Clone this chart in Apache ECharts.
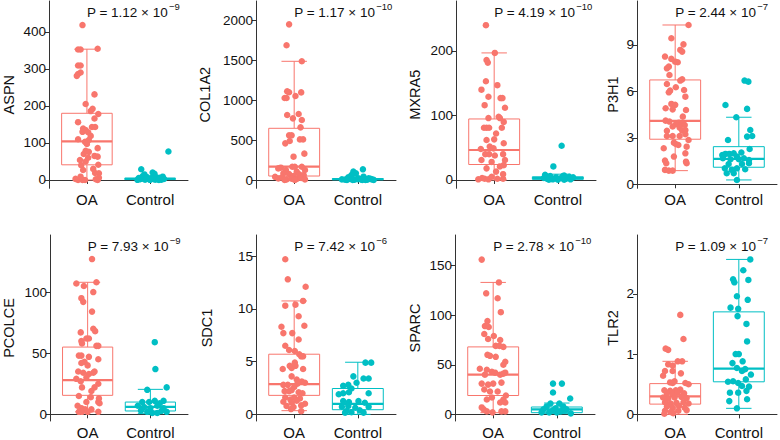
<!DOCTYPE html>
<html>
<head>
<meta charset="utf-8">
<script src="https://cdn.jsdelivr.net/npm/echarts@6/dist/echarts.min.js"></script>
<style>
html, body { margin: 0; padding: 0; background: #fff; }
#main { width: 780px; height: 440px; }
</style>
</head>
<body>
<div id="main"></div>
<script>
// gene panels, left to right, top row then bottom row
var genes = ['ASPN', 'COL1A2', 'MXRA5', 'P3H1', 'PCOLCE', 'SDC1', 'SPARC', 'TLR2'];
var groups = ['OA', 'Control'];
var pValues = [['1.12', '−9'], ['1.17', '−10'], ['4.19', '−10'], ['2.44', '−7'],
               ['7.93', '−9'], ['7.42', '−6'], ['2.78', '−10'], ['1.09', '−7']];
var yTicks = [[0, 100, 200, 300, 400], [0, 500, 1000, 1500, 2000], [0, 100, 200], [0, 3, 6, 9],
              [0, 50, 100], [0, 5, 10, 15], [0, 50, 100, 150], [0, 1, 2]];

// box stats: [lower whisker, Q1, median, Q3, upper whisker]
var boxOA = [[0, 41, 104, 180, 353], [2, 50, 167, 649, 1490], [0, 24, 46.5, 94.6, 197], [0.88, 2.91, 4.09, 6.74, 10.29],
             [2, 15.5, 28, 55, 108], [0.35, 1.8, 2.86, 5.7, 10.75], [1.7, 19, 40, 68, 133], [0, 0.17, 0.3, 0.51, 0.88]];
var boxControl = [[0.2, 1.2, 3, 5, 10], [0, 4, 10, 18, 40], [0, 1, 3, 5, 9], [0.28, 1.1, 1.64, 2.43, 4.33],
                  [0.5, 2.7, 6, 10, 20.4], [0, 0.44, 1.0, 2.45, 4.94], [0.7, 1.7, 5, 7.4, 11.4], [0.1, 0.54, 0.76, 1.7, 2.57]];

// points: [jitter, value]
var aspnOA = [[-0.07,418],[-0.14,352],[-0.10,352],[0.17,354],[-0.14,309],[-0.10,309],[-0.14,286],[-0.10,290],[-0.16,281],
  [0.12,231],[-0.02,205],[0.09,192],[0.06,186],[0.18,178],[0.12,166],[-0.14,156],[-0.06,139],[-0.02,135],[0.08,143],
  [0.13,143],[-0.07,130],[0.02,129],[0.06,119],[-0.14,110],[-0.03,103],[0.03,108],[0,97],[0.17,86],[-0.02,79],[0.03,76],
  [0.12,65],[0.17,63],[-0.11,54],[-0.02,50],[-0.09,40],[0.18,41],[-0.06,27],[0.19,18],[0.13,19],[-0.18,3],[-0.14,0],
  [-0.07,0],[-0.03,0],[0.14,2],[0.17,0],[0.19,6],[-0.10,9],[0.02,60],[-0.05,70],[0.10,30]];
var aspnControl = [[0.29,77],[-0.14,29],[-0.09,15],[0.04,20],[0.07,17],[0.2,9],[-0.12,10],[-0.05,8],[0.1,7],[0.15,6],
  [-0.18,5],[0.02,5],[0.2,4],[-0.1,4],[0.05,3],[-0.15,3],[0.12,2],[-0.02,2],[0.18,1],[-0.08,1],[0.08,1],[-0.2,0.5],
  [0,0.5],[0.14,0.3],[-0.16,2],[0.22,3]];
var col1a2OA = [[-0.08,1954],[-0.12,1691],[0.12,1490],[-0.11,1113],[-0.08,1101],[0.11,1100],[-0.15,1030],[-0.12,1030],
  [0.02,1055],[-0.11,816],[0.07,829],[-0.02,774],[0.12,753],[0.10,661],[-0.08,561],[-0.04,561],[-0.14,460],[-0.07,490],
  [0.09,510],[0.14,510],[-0.01,293],[0.16,331],[-0.03,167],[0.01,167],[-0.21,155],[-0.13,126],[0.12,167],[0.04,105],
  [-0.17,84],[-0.08,75],[-0.01,50],[0.08,71],[0.15,63],[-0.30,40],[-0.25,20],[-0.19,33],[-0.12,8],[-0.04,17],[0.04,12],
  [0.11,25],[0.17,8],[-0.15,0],[0.01,0],[0.17,126],[-0.25,146]];
var col1a2Control = [[0.08,134],[-0.07,105],[-0.03,84],[-0.10,63],[0.09,42],[-0.15,33],[0.01,21],[0.17,21],[-0.25,8],
  [0.22,8],[-0.2,5],[-0.12,12],[-0.05,3],[0.05,6],[0.12,2],[0.2,15],[-0.17,1],[0.0,10],[0.15,4],[-0.08,0],[0.25,2],[0.07,1]];
var mxra5OA = [[-0.13,240],[0.01,197],[-0.12,186],[-0.10,182],[-0.13,153],[0.05,147],[-0.2,140],[-0.09,129],[-0.15,116],
  [0.1,127],[0.13,127],[0.17,112],[-0.09,96],[0.07,98],[0.09,96],[-0.16,81],[-0.12,81],[-0.08,81],[0.12,81],[0.15,90],
  [0.03,72],[0,63],[-0.12,62],[0.15,57],[-0.21,48],[-0.07,52],[-0.01,49],[-0.14,40],[-0.08,40],[0.01,38],[0.14,40],
  [0.17,31],[-0.2,31],[-0.04,28],[0.09,21],[0.15,23],[-0.12,18],[0.03,13],[0.14,9],[-0.19,3],[-0.15,2],[-0.09,1],
  [-0.04,5],[0.05,2],[0.14,2],[-0.25,1]];
var mxra5Control = [[0.06,53],[-0.07,21],[-0.2,8],[-0.12,6],[0.1,7],[0.18,5],[-0.03,4],[0.05,3],[-0.17,2],[0.13,2],
  [-0.08,1],[0.2,1],[0.0,0.5],[-0.22,3],[0.1,0.5],[0.24,4],[-0.14,0.3],[0.08,6]];
var p3h1OA = [[0.21,10.29],[-0.06,9.43],[0.13,9.04],[0.08,8.68],[0.11,8.57],[-0.16,8.25],[-0.06,8.1],[0,7.92],[0.04,7.88],
  [-0.13,7.49],[-0.1,7.6],[-0.09,7.06],[0.11,6.78],[0.08,6.7],[-0.13,6.48],[0.01,6.27],[-0.08,6.05],[-0.1,5.94],
  [0.14,6.09],[0.16,5.66],[-0.06,5.19],[0,5.13],[-0.15,4.91],[-0.04,4.84],[0.17,4.8],[0.12,4.37],[-0.15,4.11],
  [-0.09,4.05],[0.06,3.98],[0.11,3.94],[0.01,3.88],[0.15,3.83],[-0.04,3.73],[0.07,3.66],[-0.13,3.45],[0.11,3.47],
  [0.16,3.51],[0.16,3.23],[-0.13,3.12],[-0.04,3.12],[0.07,3.12],[0.21,2.86],[-0.02,2.69],[0.01,2.6],[0.05,2.54],
  [0.18,2.43],[-0.18,2.33],[0.16,2.0],[0.18,1.36],[0.17,1.46],[-0.02,1.79],[-0.16,1.53],[-0.14,1.36],[-0.16,0.93],
  [-0.1,0.88],[-0.04,0.88]];
var p3h1Control = [[0.09,6.7],[0.15,6.63],[-0.21,5.12],[0.13,4.87],[-0.04,4.33],[0.18,3.51],[0.21,3.12],[0.13,3.08],
  [-0.17,2.86],[0.17,2.28],[-0.26,1.89],[-0.21,1.96],[-0.15,1.96],[-0.08,2.0],[-0.03,1.79],[0.04,2.05],[-0.25,1.68],
  [-0.13,1.62],[0,1.62],[0.08,1.68],[0.16,1.57],[-0.16,1.31],[0.05,1.31],[0.16,1.36],[-0.22,1.03],[-0.11,0.93],
  [-0.03,1.03],[0.1,0.97],[-0.19,0.71],[-0.08,0.71],[-0.03,0.28]];
var pcolceOA = [[0.07,127],[-0.18,107],[-0.06,105],[0.14,108],[0.09,100],[-0.1,95],[-0.07,92],[0.07,84],[-0.11,67],
  [0.09,70],[0.12,68],[-0.02,62],[0.02,62],[-0.1,60],[-0.09,58],[0.14,56],[0.17,56],[-0.14,48],[-0.1,48],[0.02,47],
  [0.17,45],[-0.05,43],[-0.1,42],[0,40],[-0.15,35],[-0.07,34],[0.09,34],[0.11,35],[0.02,33],[-0.18,29],[-0.11,27],
  [-0.02,30],[0.17,25],[-0.09,22],[0.11,22],[0.06,19],[-0.14,15],[0.05,14],[0.18,13],[0.17,10],[0.19,9],[-0.02,10],
  [-0.16,7],[-0.1,5],[-0.04,4],[0.06,4],[-0.14,2],[-0.09,2],[0,2],[0.17,2]];
var pcolceControl = [[0.07,59],[0.08,37],[0.26,22],[-0.05,20],[0.21,11],[0.07,11],[-0.02,10],[-0.13,10],[0.15,9],
  [-0.2,7],[-0.1,6],[0,5],[0.11,7],[0.21,5],[-0.15,3],[-0.05,2],[0.03,1],[0.11,1],[0.18,3],[0.26,2]];
var sdc1OA = [[-0.14,14.7],[-0.1,12.8],[0.18,12.1],[0.14,10.75],[-0.14,10.3],[0.02,10.4],[0.07,9.3],[-0.2,8.3],
  [-0.17,7.7],[0.16,8.4],[-0.03,7.7],[0.07,7.1],[-0.14,6.5],[-0.08,6.1],[0.01,6.0],[0.08,5.7],[0.11,5.5],[0.14,5.5],
  [0.01,4.9],[-0.07,4.6],[-0.04,4.4],[0.02,4.6],[-0.18,4.3],[0.14,4.3],[-0.04,3.6],[0.04,3.3],[-0.17,2.8],[-0.1,2.8],
  [0.12,3.1],[0.17,3.0],[0.05,2.9],[0,2.6],[-0.04,2.3],[-0.15,2.2],[-0.08,2.2],[0.07,2.1],[0.13,2.0],[-0.14,1.6],
  [-0.06,1.4],[0,1.6],[0.09,1.5],[-0.17,1.2],[-0.04,1.1],[0.04,1.3],[0.17,1.0],[-0.12,0.8],[-0.01,0.7],[0.11,0.85],
  [-0.05,0.5],[0.11,0.3]];
var sdc1Control = [[0.12,4.9],[0.21,4.9],[-0.07,3.6],[0.09,3.4],[0.17,3.4],[-0.23,2.7],[-0.15,2.8],[-0.02,3.0],[0.17,2.0],
  [-0.1,2.45],[-0.3,1.9],[-0.23,2.0],[-0.14,2.1],[-0.23,1.26],[-0.14,1.16],[0.01,1.26],[0.11,1.1],[-0.25,0.72],
  [-0.15,0.8],[-0.04,0.63],[0.17,0.72],[-0.18,0.3],[-0.1,0.2],[0.03,0.38],[0.09,0.16],[-0.2,0.16]];
var sparcOA = [[-0.18,156],[0.09,133],[-0.11,122],[0.07,117],[0.12,103],[-0.09,94],[-0.13,89],[-0.07,88],[-0.14,81],
  [0.01,79],[-0.08,76],[0.11,75],[0.04,69],[0.1,69],[0.16,68],[-0.09,60],[-0.05,59],[0.04,58],[0.19,53],[0.16,50],
  [-0.21,46],[-0.1,45],[-0.02,43],[0.03,42],[0.19,42],[-0.13,40],[0.11,40],[0.16,41],[-0.18,31],[-0.08,30],[0,31],
  [0.13,32],[-0.14,25],[-0.05,23],[0.07,23],[0.2,19],[0.16,15],[-0.02,17],[-0.1,15],[0.11,12],[0.19,12],[-0.18,7],
  [-0.15,5],[-0.1,3],[0.13,3],[0.19,3],[-0.01,2]];
var sparcControl = [[-0.06,31],[0.08,31],[-0.06,22],[0.21,16],[-0.1,11],[0.04,11],[-0.16,8],[0.1,8],[-0.21,5],
  [-0.06,4],[0.15,5],[0.06,3],[-0.12,2],[0,2],[-0.24,2],[0.22,1],[-0.02,6],[0.12,4]];
var tlr2OA = [[0.08,1.65],[0.13,1.25],[-0.15,1.09],[-0.11,1.07],[0.04,0.88],[0.11,0.88],[-0.11,0.83],[-0.04,0.81],
  [-0.16,0.72],[-0.19,0.64],[0.09,0.68],[-0.04,0.72],[-0.08,0.53],[-0.01,0.55],[-0.04,0.52],[0.16,0.52],[0.21,0.5],
  [-0.17,0.4],[-0.08,0.39],[0.01,0.4],[0.08,0.41],[-0.13,0.35],[-0.04,0.33],[0.04,0.36],[0.14,0.35],[-0.19,0.28],
  [-0.11,0.26],[-0.01,0.28],[0.1,0.29],[0.18,0.27],[-0.16,0.2],[-0.07,0.18],[0.02,0.19],[0.13,0.2],[0.21,0.18],
  [-0.13,0.13],[-0.04,0.11],[0.06,0.14],[0.15,0.11],[-0.16,0.06],[-0.07,0.04],[0.05,0.06],[0.18,0.07],[-0.17,0.01],
  [-0.03,0.02]];
var tlr2Control = [[0.18,2.57],[0.07,2.39],[-0.09,2.24],[-0.07,2.19],[0.15,2.23],[-0.03,1.96],[0.14,1.9],[-0.13,1.77],
  [-0.01,1.75],[-0.02,1.63],[0.12,1.5],[0.13,1.21],[-0.05,1.0],[0,1.0],[-0.1,0.85],[0.06,0.88],[-0.03,0.77],[0.1,0.75],
  [0.05,0.72],[0.19,0.66],[-0.17,0.54],[-0.09,0.55],[-0.01,0.52],[0.11,0.58],[0.05,0.47],[0.16,0.46],[-0.14,0.36],
  [-0.01,0.36],[0.12,0.39],[-0.15,0.22],[0.13,0.25],[-0.03,0.1]];

var pointsOA = [aspnOA, col1a2OA, mxra5OA, p3h1OA, pcolceOA, sdc1OA, sparcOA, tlr2OA];
var pointsControl = [aspnControl, col1a2Control, mxra5Control, p3h1Control, pcolceControl, sdc1Control, sparcControl, tlr2Control];

// layout
var panelLeft = [48, 256, 456, 637, 48, 256, 455, 637];
var panelTop = [1, 1, 1, 1, 235, 235, 235, 235];
var panelHeight = 187.3;
var panelWidth = 140;
var yMin = [-22.4, -104, -12.9, -0.26, -5.5, -0.63, -6.7, -0.11];
var yMax = [483, 2247, 277.5, 11.84, 146.7, 17.0, 180.8, 2.975];
var nameGap = [33, 44, 34, 17, 34, 42, 33, 17];

var colOA = '#F8766D';
var colControl = '#00BFC4';
var font = '"Liberation Sans", Arial, sans-serif';
var axisColor = '#333';

var myChart = echarts.init(document.getElementById('main'), null, { renderer: 'svg' });

function renderBox(params, api) {
    var x = api.value(0);
    var lo = api.coord([x, api.value(1)]);
    var q1 = api.coord([x, api.value(2)]);
    var med = api.coord([x, api.value(3)]);
    var q3 = api.coord([x, api.value(4)]);
    var hi = api.coord([x, api.value(5)]);
    var halfBox = api.size([0.4, 0])[0];
    var halfCap = api.size([0.2, 0])[0];
    var color = params.dataIndex === 0 ? colOA : colControl;
    var ls = { stroke: color, lineWidth: 1, fill: null };
    return {
        type: 'group',
        children: [
            { type: 'line', shape: { x1: hi[0], y1: hi[1], x2: q3[0], y2: q3[1] }, style: ls },
            { type: 'line', shape: { x1: lo[0], y1: lo[1], x2: q1[0], y2: q1[1] }, style: ls },
            { type: 'line', shape: { x1: hi[0] - halfCap, y1: hi[1], x2: hi[0] + halfCap, y2: hi[1] }, style: ls },
            { type: 'line', shape: { x1: lo[0] - halfCap, y1: lo[1], x2: lo[0] + halfCap, y2: lo[1] }, style: ls },
            { type: 'rect', shape: { x: q3[0] - halfBox, y: q3[1], width: halfBox * 2, height: q1[1] - q3[1] },
              style: { stroke: color, lineWidth: 1, fill: '#fff' } },
            { type: 'line', shape: { x1: med[0] - halfBox, y1: med[1], x2: med[0] + halfBox, y2: med[1] },
              style: { stroke: color, lineWidth: 2.2 } }
        ]
    };
}

function renderP(i) {
    return function (params, api) {
        var pt = api.coord([1, yMax[i]]);
        return {
            type: 'text',
            x: pt[0],
            y: pt[1],
            style: {
                text: '{m|P = ' + pValues[i][0] + ' × 10}{s|' + pValues[i][1] + '}',
                align: 'left',
                verticalAlign: 'top',
                rich: {
                    m: { fontSize: 13.5, fontFamily: font, fill: '#111', lineHeight: 18, verticalAlign: 'bottom' },
                    s: { fontSize: 9.5, fontFamily: font, fill: '#111', lineHeight: 11, verticalAlign: 'top', padding: [0, 0, 0, 1] }
                }
            }
        };
    };
}

var grids = [], xAxes = [], yAxes = [], series = [];
for (var i = 0; i < genes.length; i++) {
    grids.push({ left: panelLeft[i], top: panelTop[i], width: panelWidth, height: panelHeight });
    xAxes.push({
        type: 'value', gridIndex: i, min: 0.4, max: 2.6,
        axisLine: { show: true, lineStyle: { color: axisColor, width: 1 } },
        axisTick: { show: true, length: 4, customValues: [1, 2], lineStyle: { color: axisColor } },
        axisLabel: {
            customValues: [1, 2], margin: 4, fontSize: 15, color: '#111', fontFamily: font,
            formatter: function (v) { return groups[Math.round(v) - 1]; }
        },
        splitLine: { show: false }
    });
    yAxes.push({
        type: 'value', gridIndex: i, min: yMin[i], max: yMax[i],
        name: genes[i], nameLocation: 'middle', nameGap: nameGap[i],
        nameTextStyle: { fontSize: 14.5, color: '#111', fontFamily: font },
        axisLine: { show: true, lineStyle: { color: axisColor, width: 1 } },
        axisTick: { show: true, length: 4, customValues: yTicks[i], lineStyle: { color: axisColor } },
        axisLabel: {
            customValues: yTicks[i], margin: 3, fontSize: 13.5, color: '#111', fontFamily: font,
            formatter: function (v) { return String(v); }
        },
        splitLine: { show: false }
    });
    series.push({
        type: 'custom', xAxisIndex: i, yAxisIndex: i, silent: true,
        renderItem: renderBox,
        data: [[1].concat(boxOA[i]), [2].concat(boxControl[i])],
        z: 1
    });
    series.push({
        type: 'scatter', xAxisIndex: i, yAxisIndex: i, silent: true,
        symbolSize: 6.5, itemStyle: { color: colOA, opacity: 1 },
        data: pointsOA[i].map(function (p) { return [1 + p[0], p[1]]; }),
        z: 3
    });
    series.push({
        type: 'scatter', xAxisIndex: i, yAxisIndex: i, silent: true,
        symbolSize: 6.5, itemStyle: { color: colControl, opacity: 1 },
        data: pointsControl[i].map(function (p) { return [2 + p[0], p[1]]; }),
        z: 3
    });
    series.push({
        type: 'custom', xAxisIndex: i, yAxisIndex: i, silent: true,
        renderItem: renderP(i), data: [[1]], z: 5
    });
}

var option = {
    backgroundColor: '#fff',
    animation: false,
    textStyle: { fontFamily: font },
    grid: grids,
    xAxis: xAxes,
    yAxis: yAxes,
    series: series
};
myChart.setOption(option);
</script>
</body>
</html>
